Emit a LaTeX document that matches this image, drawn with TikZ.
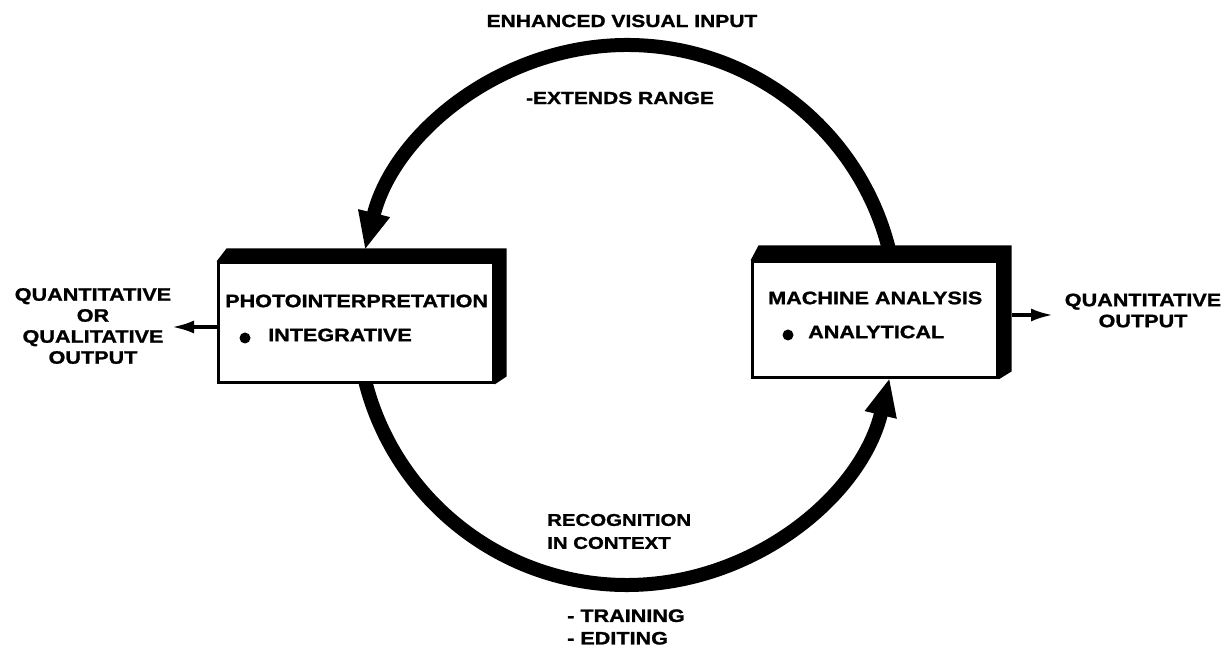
\documentclass[tikz,border=0pt]{standalone}
\usepackage{fontspec}
\setmainfont[FakeStretch=1.2,BoldFeatures={FakeBold=1.2}]{Liberation Sans}
\usetikzlibrary{arrows.meta,calc}
\begin{document}
\begin{tikzpicture}[x=1pt,y=1pt,
  lab/.style={font=\bfseries\fontsize{18}{21}\selectfont, inner sep=0pt},
  ring/.style={line width=14pt},
  ringtip/.style={-{Triangle[length=38pt,width=30pt]}},
  facebox/.style={draw, line width=3pt, fill=white, inner sep=0pt},
  band/.style={fill=black},
  outarrow/.style={line width=3.5pt, -{Latex[length=22pt,width=13pt]}},
  dot/.style={circle, fill=black, inner sep=0pt, minimum size=11pt}]
\useasboundingbox (0,0) rectangle (1226,648);

% the feedback ring
\coordinate (C) at (627,333);
\coordinate (topA) at ($(C)+(5:270)$);
\coordinate (botA) at ($(C)+(185:270)$);
\draw[ring, ringtip] (topA) arc[start angle=5, end angle=166.07, radius=270pt];
\draw[ring, ringtip] (botA) arc[start angle=185, end angle=346.51, radius=270pt];

% photointerpretation box with its raised edge
\node[facebox, minimum width=275pt, minimum height=120pt] (pi) at (355.5,325) {};
\fill[band] (pi.north west) -- ++(10,13) -- ([shift={(12,13)}]pi.north east)
  -- ([shift={(12,8)}]pi.south east) -- (pi.south east) -- (pi.north east) -- cycle;

% machine analysis box with its raised edge
\node[facebox, minimum width=245pt, minimum height=116pt] (pm) at (874.5,328) {};
\fill[band] (pm.north west) -- ++(8,15) -- ([shift={(13,15)}]pm.north east)
  -- ([shift={(13,8)}]pm.south east) -- (pm.south east) -- (pm.north east) -- cycle;

% box texts
\node[lab, anchor=west] (pit) at (225,347) {PHOTOINTERPRETATION};
\node[dot] (pib) at (245,310) {};
\node[lab, anchor=west] (pii) at (268,313) {INTEGRATIVE};
\node[lab, anchor=west] (pmt) at (768,350) {MACHINE ANALYSIS};
\node[dot] (pmb) at (788,313) {};
\node[lab, anchor=west] (pma) at (808,316) {ANALYTICAL};

% ring labels
\node[lab, font=\bfseries\fontsize{17.5}{21}\selectfont] (evi) at (622,627) {ENHANCED VISUAL INPUT};
\node[lab, font=\bfseries\fontsize{17.5}{21}\selectfont] (ext) at (620,550) {-EXTENDS RANGE};
\node[lab, align=left, anchor=west, font=\bfseries\fontsize{17}{23}\selectfont] (ric) at (547,116.5) {RECOGNITION\\IN CONTEXT};
\node[lab, align=left, anchor=west, font=\bfseries\fontsize{18}{22.5}\selectfont] (tre) at (567,21) {- TRAINING\\- EDITING};

% outputs
\node[lab, align=center] (qlo) at (93,322) {QUANTITATIVE\\OR\\QUALITATIVE\\OUTPUT};
\node[lab, align=center] (qo) at (1143,337.5) {QUANTITATIVE\\OUTPUT};
\coordinate (lout) at (172,321);
\draw[outarrow] (pi.west |- lout) -- (lout);
\coordinate (pmedge) at ($(pm.east)+(13,0)$);
\coordinate (rout) at (1053,333);
\draw[outarrow] (pmedge |- rout) -- (rout);
\end{tikzpicture}
\end{document}
